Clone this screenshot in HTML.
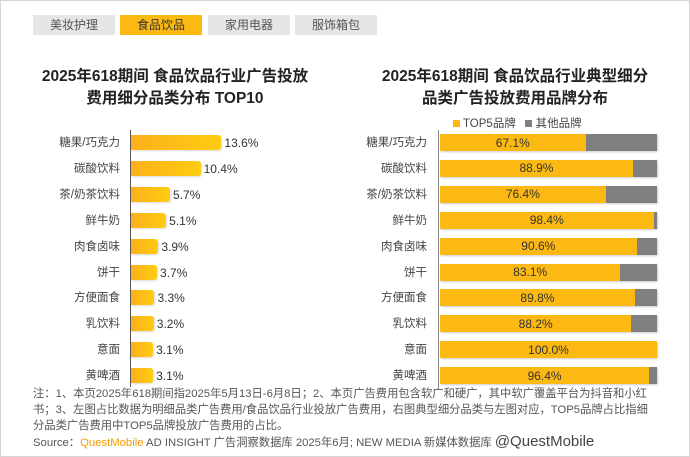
<!DOCTYPE html>
<html><head><meta charset="utf-8"><style>
body{margin:0;width:690px;height:457px;background:#fff;font-family:"Liberation Sans","Noto Sans CJK SC",sans-serif;position:relative;overflow:hidden;color:#333}
.frame{position:absolute;left:0;top:0;width:688px;height:455px;border:1px solid #d6d6d6}
.tab{position:absolute;top:15px;height:20px;width:82px;background:#e6e6e6;color:#555;font-size:12px;text-align:center;line-height:20px}
.t{position:absolute;font-size:15.5px;font-weight:bold;color:#222;text-align:center;line-height:22px}
.lab{position:absolute;font-size:11.5px;color:#444;text-align:right;width:120px;line-height:14px}
.bar{position:absolute;height:15px;background:linear-gradient(90deg,#fbb01c,#ffcc10);border-radius:0 3px 3px 0;box-shadow:1px 1px 2px rgba(0,0,0,.15)}
.val{position:absolute;font-size:12px;color:#333;line-height:14px}
.rb{position:absolute;left:440px;width:217px;height:17px;background:#7f7f7f;box-shadow:1px 1px 2px rgba(0,0,0,.2)}
.rb div{height:100%;background:#fdb913;font-size:12px;color:#333;display:flex;align-items:center;justify-content:center}
.note{position:absolute;left:33px;top:386px;width:620px;font-size:11.3px;color:#555;line-height:16px}
</style></head><body>
<div class="frame"></div>
<div class="tab" style="left:33px">美妆护理</div>
<div class="tab" style="left:120px;background:#fdb913;color:#333">食品饮品</div>
<div class="tab" style="left:208px">家用电器</div>
<div class="tab" style="left:295px">服饰箱包</div>
<div class="t" style="left:20px;top:66px;width:310px">2025年618期间 食品饮品行业广告投放<br>费用细分品类分布 TOP10</div>
<div class="t" style="left:360px;top:66px;width:310px">2025年618期间 食品饮品行业典型细分<br>品类广告投放费用品牌分布</div>
<div style="position:absolute;left:453px;top:115px;font-size:11.5px;color:#444"><span style="display:inline-block;width:7px;height:7px;background:#fdb913"></span> TOP5品牌 &nbsp; <span style="display:inline-block;width:7px;height:7px;background:#7f7f7f"></span> 其他品牌</div>
<div style="position:absolute;left:130px;top:130px;width:1px;height:257px;background:#555"></div>
<div style="position:absolute;left:438px;top:130px;width:1px;height:257px;background:#888"></div>
<div id="c"></div>
<div class="note">注：1、本页2025年618期间指2025年5月13日-6月8日；2、本页广告费用包含软广和硬广，其中软广覆盖平台为抖音和小红书；3、左图占比数据为明细品类广告费用/食品饮品行业投放广告费用，右图典型细分品类与左图对应，TOP5品牌占比指细分品类广告费用中TOP5品牌投放广告费用的占比。<br>Source：<span style="color:#f59b00">QuestMobile</span> AD INSIGHT 广告洞察数据库 2025年6月; NEW MEDIA 新媒体数据库 <span style="font-size:15px;color:#444">@QuestMobile</span></div>
<script>
var d=[["糖果/巧克力",13.6,67.1],["碳酸饮料",10.4,88.9],["茶/奶茶饮料",5.7,76.4],["鲜牛奶",5.1,98.4],["肉食卤味",3.9,90.6],["饼干",3.7,83.1],["方便面食",3.3,89.8],["乳饮料",3.2,88.2],["意面",3.1,100.0],["黄啤酒",3.1,96.4]];
var h="";
d.forEach(function(r,i){var y=142+i*25.9;var w=2+6.5*r[1];
h+='<div class="lab" style="left:0;top:'+(y-6)+'px">'+r[0]+'</div>';
h+='<div class="bar" style="left:131px;top:'+(y-7)+'px;width:'+w+'px"></div>';
h+='<div class="val" style="left:'+(134+w)+'px;top:'+(y-6)+'px">'+r[1].toFixed(1)+'%</div>';
h+='<div class="lab" style="left:307px;top:'+(y-6)+'px">'+r[0]+'</div>';
h+='<div class="rb" style="top:'+(y-8)+'px"><div style="width:'+r[2]+'%">'+r[2].toFixed(1)+'%</div></div>';});
document.getElementById("c").innerHTML=h;
</script>
</body></html>
